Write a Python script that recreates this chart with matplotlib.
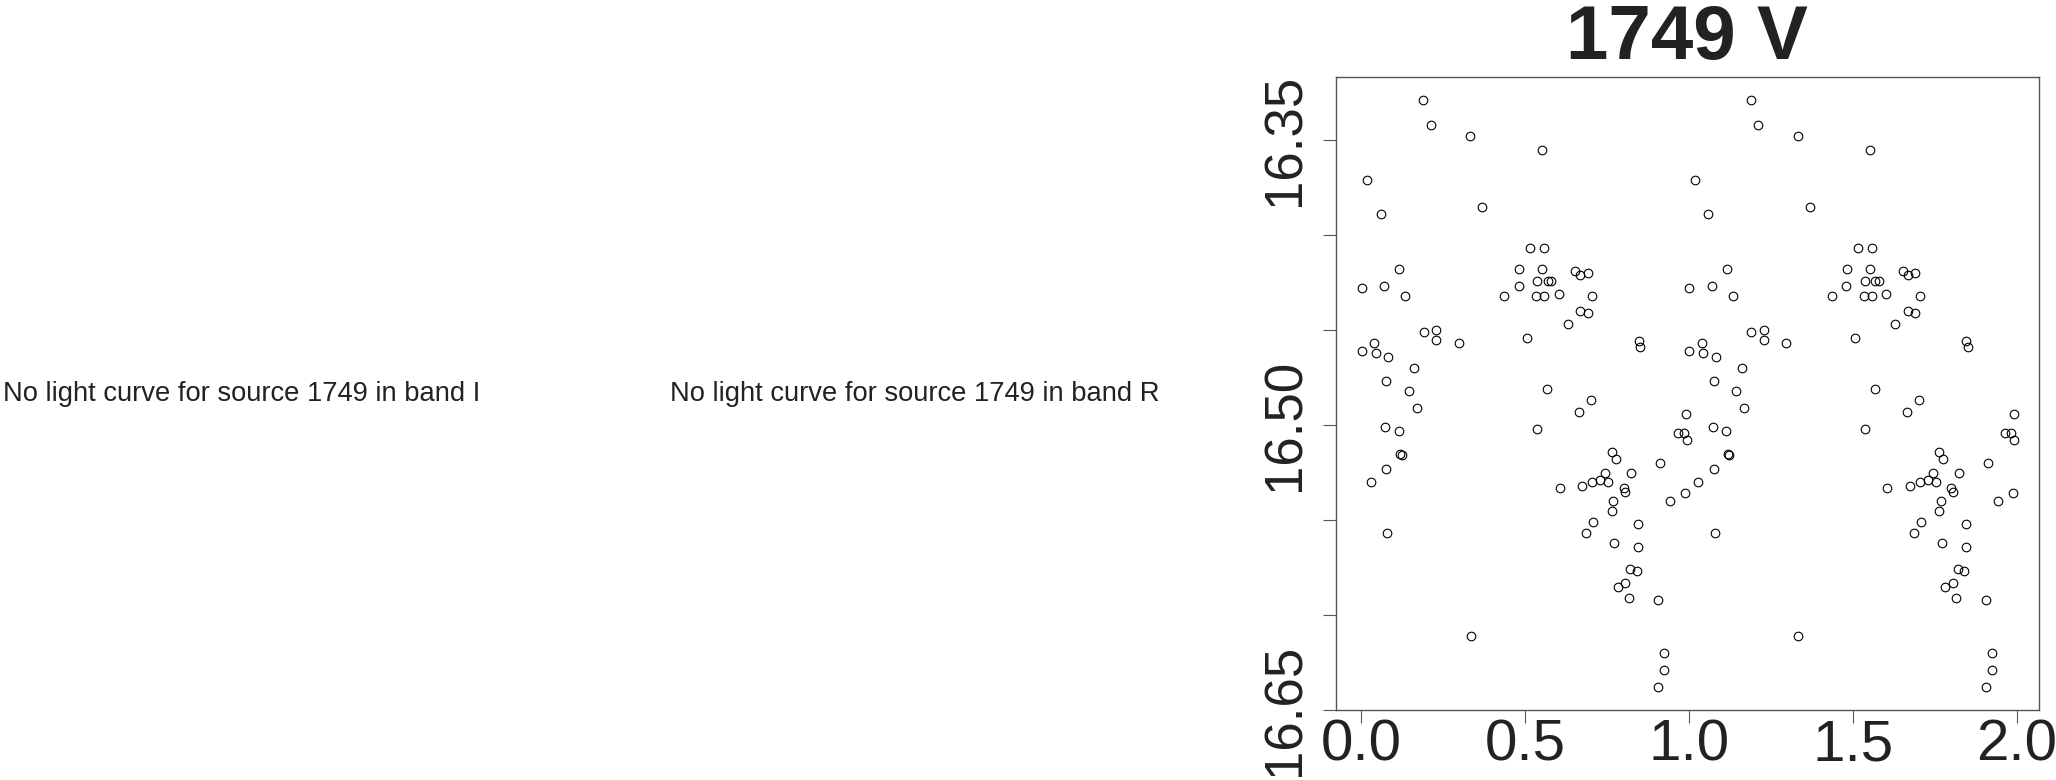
"""
Phased light curve for source 1749: no data in bands I and R,
V band folded and shown over two cycles (phase 0-2).
"""
import numpy as np
import matplotlib
matplotlib.use("Agg")
import matplotlib.pyplot as plt

plt.rcParams['font.family'] = ['Liberation Sans', 'DejaVu Sans']

# --- Data (one cycle, phase 0-1) ---
phase = [
    0.188, 0.212, 0.333, 0.019, 0.059, 0.370, 0.516, 0.115, 0.001, 0.070,
    0.135, 0.481, 0.480, 0.436, 0.190, 0.228, 0.228, 0.297, 0.507, 0.039,
    0.001, 0.044, 0.081, 0.162, 0.076, 0.145, 0.169, 0.074, 0.114, 0.118,
    0.123, 0.077, 0.029, 0.080, 0.334, 0.551, 0.557, 0.551, 0.653, 0.669,
    0.691, 0.536, 0.569, 0.580, 0.534, 0.557, 0.602, 0.705, 0.667, 0.691,
    0.630, 0.846, 0.850, 0.568, 0.702, 0.664, 0.536, 0.991, 0.965, 0.984,
    0.993, 0.764, 0.776, 0.913, 0.745, 0.824, 0.605, 0.673, 0.704, 0.729,
    0.753, 0.801, 0.806, 0.988, 0.942, 0.768, 0.764, 0.708, 0.687, 0.844,
    0.772, 0.844, 0.820, 0.840, 0.806, 0.782, 0.816, 0.907, 0.924, 0.924,
    0.907,
]
mag = [
    16.329, 16.342, 16.348, 16.371, 16.389, 16.385, 16.407, 16.418, 16.428, 16.427,
    16.432, 16.418, 16.427, 16.432, 16.451, 16.450, 16.455, 16.457, 16.454, 16.457,
    16.461, 16.462, 16.464, 16.470, 16.477, 16.482, 16.491, 16.501, 16.503, 16.515,
    16.516, 16.523, 16.530, 16.557, 16.611, 16.355, 16.407, 16.418, 16.419, 16.421,
    16.420, 16.424, 16.424, 16.424, 16.432, 16.432, 16.431, 16.432, 16.440, 16.441,
    16.447, 16.456, 16.459, 16.481, 16.487, 16.493, 16.502, 16.494, 16.504, 16.504,
    16.508, 16.514, 16.518, 16.520, 16.525, 16.525, 16.533, 16.532, 16.530, 16.529,
    16.530, 16.533, 16.535, 16.536, 16.540, 16.540, 16.545, 16.551, 16.557, 16.552,
    16.562, 16.564, 16.576, 16.577, 16.583, 16.585, 16.591, 16.592, 16.620, 16.629,
    16.638,
]

source_id = "1749"
empty_bands = ["I", "R"]
band = "V"

xticks = [0.0, 0.5, 1.0, 1.5, 2.0]
xtick_labels = ["0.0", "0.5", "1.0", "1.5", "2.0"]
yticks = [16.35, 16.40, 16.45, 16.50, 16.55, 16.60, 16.65]
ytick_labels = ["16.35", "", "", "16.50", "", "", "16.65"]

W, H = 2056, 780
fig = plt.figure(figsize=(W / 100, H / 100), dpi=100)

# --- Empty bands: just a message ---
text_x = [2.7 / W, 670 / W]
for b, tx in zip(empty_bands, text_x):
    fig.text(tx, 1 - 394 / H, f"No light curve for source {source_id} in band {b}",
             fontsize=19.7, color='#222222', ha='left', va='center')

# --- V band: folded light curve, plotted over two cycles ---
ax = fig.add_axes([1336 / W, 1 - 710 / H, (2039 - 1336) / W, (710 - 77.3) / H])
ph = np.asarray(phase)
mg = np.asarray(mag)
ax.plot(np.concatenate([ph, ph + 1]), np.concatenate([mg, mg]), 'o',
        markerfacecolor='none', markeredgecolor='black', markersize=6.2,
        markeredgewidth=0.8)

ax.set_xlim(-0.077, 2.068)
ax.set_ylim(16.65, 16.317)  # magnitudes: brighter up

ax.set_xticks(xticks)
ax.set_xticklabels(xtick_labels)
ax.set_yticks(yticks)
ax.set_yticklabels(ytick_labels, rotation=90, va='center')

for s in ax.spines.values():
    s.set_color('#555555')
    s.set_linewidth(1.0)
ax.tick_params(axis='both', direction='out', length=9.3, width=0.8,
               color='#555555', labelcolor='#222222')
ax.tick_params(axis='x', pad=-3, labelsize=42)
ax.tick_params(axis='y', pad=9, labelsize=38)

ax.set_title(f"{source_id} {band}", fontsize=55, fontweight='bold',
             color='#222222', pad=13)

fig.savefig("out.png", dpi=100)
